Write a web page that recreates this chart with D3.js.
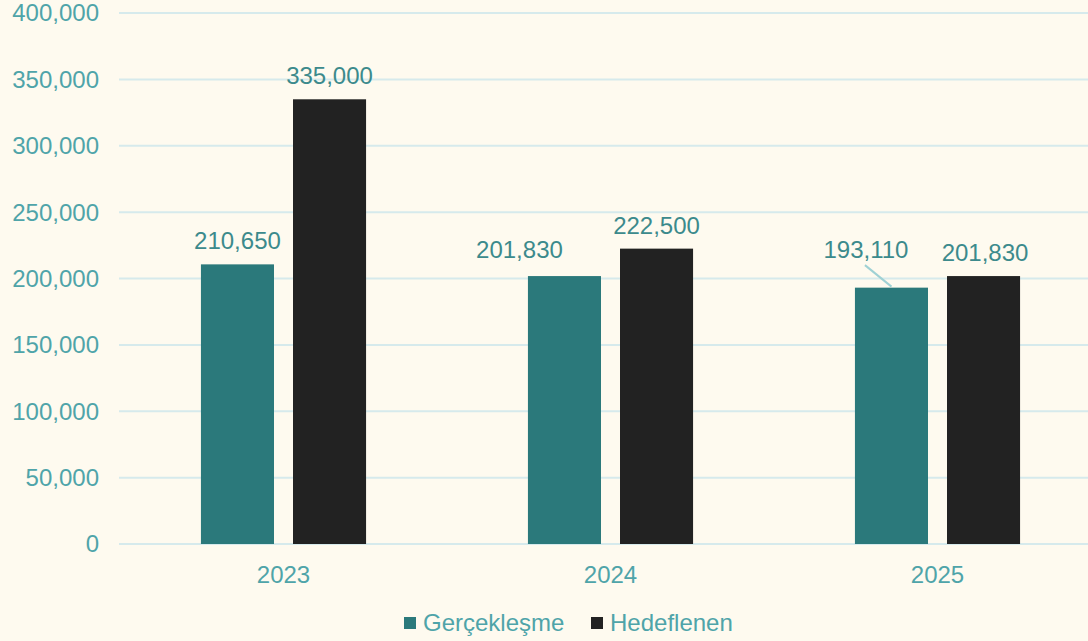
<!DOCTYPE html>
<html>
<head>
<meta charset="utf-8">
<script src="https://cdn.jsdelivr.net/npm/d3@7"></script>
<style>
  html, body { margin: 0; padding: 0; background: #fefaef; }
  svg { display: block; font-family: "Liberation Sans", Arial, sans-serif; }
</style>
</head>
<body>
<svg id="chart" width="1088" height="641"></svg>
<script>
// ---- data ----
const categories = ["2023", "2024", "2025"];
const seriesNames = ["Gerçekleşme", "Hedeflenen"];
const gerceklesme = [210650, 201830, 193110];
const hedeflenen = [335000, 222500, 201830];
const yTicks = [0, 50000, 100000, 150000, 200000, 250000, 300000, 350000, 400000];

// ---- styles / layout ----
const colors = ["#2b797b", "#222222"];
const W = 1088, H = 641;
const plotLeft = 119, plotRight = 1088, plotTop = 13, plotBottom = 544;
// label offsets (dx, dy from bar top) per series/category
const labelOffsets = [
  [[0, -15], [-45, -18], [-25.5, -30]],
  [[0, -15], [0, -15], [1.5, -15]]
];

const svg = d3.select("#chart");
svg.append("rect").attr("width", W).attr("height", H).attr("fill", "#fefaef");

const y = d3.scaleLinear().domain([0, 400000]).range([plotBottom, plotTop]);
const x0 = d3.scaleBand().domain(categories).range([120, 1101])
  .paddingInner(0.495).paddingOuter(0.2475);
const x1 = d3.scaleBand().domain(seriesNames).range([0, x0.bandwidth()])
  .paddingInner(0.2065).paddingOuter(0);

const fmt = d3.format(",");

// gridlines
svg.append("g").selectAll("line").data(yTicks).join("line")
  .attr("x1", plotLeft).attr("x2", plotRight)
  .attr("y1", d => y(d)).attr("y2", d => y(d))
  .attr("stroke", "#d6eaec").attr("stroke-width", 2);

// y axis labels
svg.append("g").selectAll("text").data(yTicks).join("text")
  .attr("x", 99).attr("y", d => y(d)).attr("dy", "0.35em")
  .attr("text-anchor", "end")
  .attr("fill", "#4fa4a9").attr("font-size", 24)
  .text(d => fmt(d));

// x axis labels
svg.append("g").selectAll("text").data(categories).join("text")
  .attr("x", d => x0(d) + x0.bandwidth() / 2).attr("y", 583)
  .attr("text-anchor", "middle")
  .attr("fill", "#4fa4a9").attr("font-size", 24)
  .text(d => d);

const series = [gerceklesme, hedeflenen];
const barData = [];
series.forEach((vals, si) => vals.forEach((v, ci) => barData.push({ si, ci, v })));

// bars
svg.append("g").selectAll("rect").data(barData).join("rect")
  .attr("x", d => x0(categories[d.ci]) + x1(seriesNames[d.si]))
  .attr("y", d => y(d.v))
  .attr("width", x1.bandwidth())
  .attr("height", d => y(0) - y(d.v))
  .attr("fill", d => colors[d.si]);

// leader line for shifted label (2025 Gerçekleşme)
{
  const d = { si: 0, ci: 2, v: gerceklesme[2] };
  const cx = x0(categories[d.ci]) + x1(seriesNames[d.si]) + x1.bandwidth() / 2;
  svg.append("line")
    .attr("x1", cx - 26.5).attr("y1", y(d.v) - 22.5)
    .attr("x2", cx).attr("y2", y(d.v) - 1)
    .attr("stroke", "#9fd1d4").attr("stroke-width", 2);
}

// value labels
svg.append("g").selectAll("text").data(barData).join("text")
  .attr("x", d => x0(categories[d.ci]) + x1(seriesNames[d.si]) + x1.bandwidth() / 2 + labelOffsets[d.si][d.ci][0])
  .attr("y", d => y(d.v) + labelOffsets[d.si][d.ci][1])
  .attr("text-anchor", "middle")
  .attr("fill", "#3c8a8c").attr("font-size", 24)
  .text(d => fmt(d.v));

// legend
const legendItems = [
  { name: seriesNames[0], color: colors[0], sx: 404, tx: 423 },
  { name: seriesNames[1], color: colors[1], sx: 591, tx: 610 }
];
const lg = svg.append("g");
lg.selectAll("rect").data(legendItems).join("rect")
  .attr("x", d => d.sx).attr("y", 617).attr("width", 12).attr("height", 12)
  .attr("fill", d => d.color);
lg.selectAll("text").data(legendItems).join("text")
  .attr("x", d => d.tx).attr("y", 631)
  .attr("fill", "#4fa4a9").attr("font-size", 24)
  .text(d => d.name);
</script>
</body>
</html>
